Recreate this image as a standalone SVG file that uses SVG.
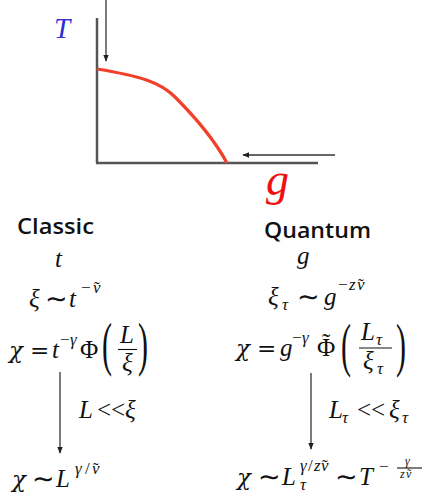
<svg xmlns="http://www.w3.org/2000/svg" width="428" height="493" viewBox="0 0 428 493">
<style>
.m{font-family:"Liberation Serif","DejaVu Serif",serif;font-style:italic;font-size:25px;fill:#111}
.c{font-family:"DejaVu Serif","Liberation Serif",serif;font-style:italic;font-size:23px;fill:#111}
.r{font-family:"Liberation Serif","DejaVu Serif",serif;font-size:25px;fill:#111}
.o{font-family:"DejaVu Serif","Liberation Serif",serif;font-size:23px;fill:#111}
.q{font-family:"DejaVu Sans","DejaVu Serif",sans-serif;font-size:27px;fill:#111}
.s{font-family:"Liberation Serif","DejaVu Serif",serif;font-style:italic;font-size:17px;fill:#111}
.w{font-family:"Liberation Serif","DejaVu Serif",serif;font-size:17px;fill:#111}
.t{font-family:"Liberation Serif","DejaVu Serif",serif;font-style:italic;font-size:12px;fill:#111}
.p{font-family:"Liberation Serif","DejaVu Serif",serif;font-size:30px;fill:#111}
.h{font-family:"Open Sans","Noto Sans",sans-serif;font-weight:600;font-size:22px;fill:#111}
.ax{stroke:#555;stroke-width:2.5;fill:none}
.ar{stroke:#333;stroke-width:1.3;fill:none;marker-end:url(#ah)}
.bar{stroke:#111;stroke-width:1.1}
</style>
<defs>
<marker id="ah" viewBox="0 0 10 10" refX="9" refY="5" markerWidth="7" markerHeight="7" orient="auto" markerUnits="userSpaceOnUse">
<path d="M0,1 L10,5 L0,9 z" fill="#222"/>
</marker>
</defs>
<g id="phase-diagram">
<line class="ax" x1="97" y1="18" x2="97" y2="163"/>
<line class="ax" x1="96" y1="163" x2="318" y2="163"/>
<path d="M97,69 C140,76 160,82 175,97 C195,117 213,137 227,163" stroke="#f2402b" stroke-width="3.2" fill="none"/>
<text x="54" y="38" font-family="Liberation Serif,serif" font-style="italic" font-size="29" fill="#2f2fd6">T</text>
<text x="266" y="195" font-family="Liberation Serif,serif" font-style="italic" font-size="46" fill="#ee1111">g</text>
</g>
<g id="connectors">
<line class="ar" x1="106" y1="0" x2="106" y2="61"/>
<line class="ar" x1="335" y1="155" x2="243" y2="155"/>
<line class="ar" x1="60" y1="372" x2="60" y2="453"/>
<line class="ar" x1="311" y1="373" x2="311" y2="449"/>
</g>
<g id="classic">
<text class="h" x="17" y="234" textLength="77" lengthAdjust="spacingAndGlyphs">Classic</text>
<text class="m" x="55" y="267">t</text>
<text class="m" x="29" y="307">ξ</text><text class="q" x="45" y="308">∼</text><text class="m" x="69" y="307">t</text>
<text class="w" x="81" y="293">−</text><text class="s" x="93" y="293">ν</text><text class="w" x="94" y="293">˜</text>
<text class="c" x="9" y="358">χ</text><text class="o" x="30" y="358">=</text><text class="m" x="52" y="358">t</text>
<text class="w" x="60" y="345">−</text><text class="s" x="70" y="345">γ</text><text class="r" x="80" y="358">Φ</text>
<text class="p" transform="translate(102,364) scale(1,1.95)">(</text><text class="m" x="120" y="343">L</text><line class="bar" x1="118" y1="349.5" x2="137" y2="349.5"/><text class="m" x="122" y="371">ξ</text><text class="p" transform="translate(138,364) scale(1,1.95)">)</text>
<text class="m" x="79" y="418" font-size="22">L</text><text class="r" x="97" y="418" font-size="22">&lt;&lt;</text><text class="m" x="125" y="418" font-size="22">ξ</text>
<text class="c" x="12" y="487">χ</text><text class="q" x="32" y="488">∼</text><text class="m" x="56" y="487">L</text>
<text class="s" x="75" y="474">γ</text><text class="w" x="85" y="474">/</text><text class="s" x="92" y="474">ν</text><text class="w" x="93" y="474">˜</text>
</g>
<g id="quantum">
<text class="h" x="264" y="238" textLength="107" lengthAdjust="spacingAndGlyphs">Quantum</text>
<text class="m" x="297" y="264">g</text>
<text class="m" x="268" y="305">ξ</text><text class="s" x="282" y="310" font-size="15">τ</text><text class="q" x="297" y="306">∼</text><text class="m" x="324" y="305">g</text>
<text class="w" x="338" y="290">−</text><text class="s" x="349" y="290">z</text><text class="s" x="357" y="290">ν</text><text class="w" x="358" y="290">˜</text>
<text class="c" x="236" y="356">χ</text><text class="o" x="257" y="356">=</text><text class="m" x="280" y="356">g</text>
<text class="w" x="292" y="343">−</text><text class="s" x="302" y="343">γ</text><text class="r" x="317" y="356">Φ</text><text class="r" x="322" y="351">˜</text>
<text class="p" transform="translate(341,365) scale(1,2)">(</text><text class="m" x="361" y="340">L</text><text class="s" x="376" y="345" font-size="15">τ</text><line class="bar" x1="359" y1="348" x2="392" y2="348"/><text class="m" x="363" y="369">ξ</text><text class="s" x="377" y="374" font-size="15">τ</text><text class="p" transform="translate(396,365) scale(1,2)">)</text>
<text class="m" x="329" y="418" font-size="22">L</text><text class="s" x="342" y="423" font-size="14">τ</text><text class="r" x="357" y="418" font-size="22">&lt;&lt;</text><text class="m" x="389" y="418" font-size="22">ξ</text><text class="s" x="402" y="423" font-size="14">τ</text>
<text class="c" x="237" y="485">χ</text><text class="q" x="258" y="486">∼</text><text class="m" x="282" y="485">L</text><text class="s" x="300" y="490" font-size="13">τ</text>
<text class="s" x="300" y="471" font-size="15">γ</text><text class="w" x="308" y="471" font-size="15">/</text><text class="s" x="314" y="471" font-size="15">z</text><text class="s" x="321" y="471" font-size="15">ν</text><text class="w" x="322" y="471" font-size="15">˜</text>
<text class="q" x="335" y="486">∼</text><text class="m" x="359" y="485">T</text><text class="w" x="379" y="472" font-size="15">−</text>
<text class="t" x="405" y="465">γ</text><line class="bar" x1="397" y1="468" x2="422" y2="468" stroke-width="0.8"/><text class="t" x="400" y="478">z</text><text class="t" x="406" y="478">ν</text><text class="t" x="406.5" y="478" font-style="normal">˜</text>
</g>
</svg>
